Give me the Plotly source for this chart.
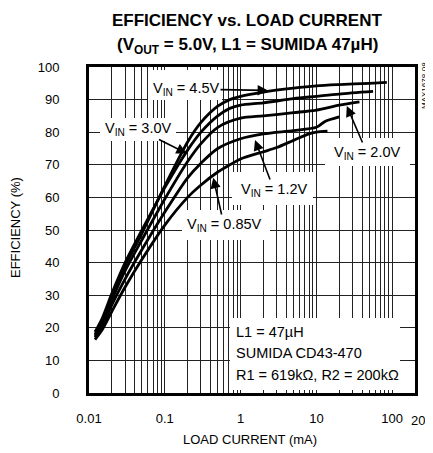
import math
import plotly.graph_objects as go

# ---- data ----
I_45 = [0.012, 0.015, 0.02, 0.03, 0.05, 0.1, 0.2, 0.3, 0.5, 0.72, 1, 2, 5, 10, 20, 50, 85]
E_45 = [18.0, 22.0, 29.5, 39.0, 49.0, 63.5, 77.0, 83.0, 88.0, 90.0, 91.0, 92.3, 93.5, 94.2, 94.6, 95.0, 95.3]

I_30 = [0.012, 0.015, 0.02, 0.03, 0.05, 0.1, 0.2, 0.3, 0.5, 0.72, 1, 2, 5, 10, 20, 56]
E_30 = [18.7, 23.0, 30.5, 40.0, 50.0, 63.0, 74.5, 80.0, 85.0, 87.3, 88.3, 89.0, 90.3, 91.0, 91.7, 92.5]

I_20 = [0.012, 0.015, 0.02, 0.03, 0.05, 0.1, 0.2, 0.3, 0.5, 1, 2, 5, 10, 20, 37]
E_20 = [17.5, 21.5, 28.5, 37.5, 47.0, 59.5, 71.0, 76.5, 81.5, 84.3, 85.0, 86.0, 86.8, 88.3, 89.3]

I_12 = [0.012, 0.015, 0.02, 0.03, 0.05, 0.1, 0.2, 0.3, 0.5, 1, 2, 5, 10, 13, 20]
E_12 = [17.0, 20.5, 27.0, 35.0, 44.0, 55.5, 66.0, 70.5, 75.0, 78.0, 79.5, 80.5, 81.5, 83.3, 84.7]

I_085 = [0.012, 0.015, 0.02, 0.03, 0.05, 0.1, 0.2, 0.3, 0.5, 0.72, 1, 2, 3, 5, 8, 10, 14]
E_085 = [16.4, 19.5, 25.0, 32.5, 41.0, 51.5, 60.0, 63.8, 67.8, 70.0, 71.8, 74.0, 75.3, 77.5, 79.5, 80.0, 80.3]

x_tickvals = [0.01, 0.1, 1, 10, 100]
x_ticktext = ["0.01", "0.1", "1", "10", "100"]
y_tickvals = [0, 10, 20, 30, 40, 50, 60, 70, 80, 90, 100]
x_minor = [m * d for d in (0.01, 0.1, 1, 10) for m in range(2, 10)]

FONT = "Liberation Sans Narrow, Arial Narrow, Liberation Sans, Arial, sans-serif"

series = [(I_45, E_45), (I_30, E_30), (I_20, E_20), (I_12, E_12), (I_085, E_085)]

fig = go.Figure()
for xs, ys in series:
    fig.add_trace(go.Scatter(x=xs, y=ys, mode="lines",
                             line=dict(color="black", width=2.8, shape="spline", smoothing=0.8),
                             hoverinfo="skip"))

# page body has an 8px margin, so the figure is drawn 8px in from the window corner
OFF = 8
FIG_W, FIG_H = 433 - OFF, 453 - OFF
# plot-area in window pixels: x 89..415, y 67..393
L, R, T, B = 89, 415, 67, 393
W, H = R - L, B - T
def px(x): return (x - L) / W
def py(y): return (B - y) / H

# white boxes that hide the grid behind labels
boxes = [(148, 222, 70, 100), (100, 176, 118, 141), (182, 270, 210, 240),
         (232, 313, 172, 205), (325, 410, 138, 166), (230, 400, 318, 390)]
shapes = []
for x0, x1, y0, y1 in boxes:
    shapes.append(dict(type="rect", xref="paper", yref="paper",
                       x0=px(x0), x1=px(x1), y0=py(y1), y1=py(y0),
                       fillcolor="white", line=dict(width=0), layer="above"))

ann = []
LBL = 14.5

def label(text, cx, cy, I, E):
    # text centred at pixel (cx, cy); arrow tip at data point (I, E)
    tip_x = L + (math.log10(I) + 2) / (math.log10(200) + 2) * W
    tip_y = B - E / 100 * H
    ann.append(dict(text=text, x=math.log10(I), y=E, xref="x", yref="y",
                    ax=cx - tip_x, ay=cy - tip_y, showarrow=True,
                    arrowhead=2, arrowsize=1.3, arrowwidth=1.6, arrowcolor="black",
                    standoff=0, startstandoff=0,
                    font=dict(size=LBL, color="black", family=FONT)))

label("V<sub>IN</sub> = 4.5V", 186, 89, 2.3, 92.8)
label("V<sub>IN</sub> = 3.0V", 138, 129, 0.195, 73.5)
label("V<sub>IN</sub> = 0.85V", 224, 225, 0.436, 66.0)
label("V<sub>IN</sub> = 1.2V", 274, 190, 1.55, 77.6)
label("V<sub>IN</sub> = 2.0V", 367, 153, 25.2, 88.0)

def text(t, x, y, size, xanchor="center", angle=0, bold=False):
    ann.append(dict(text=("<b>%s</b>" % t) if bold else t, xref="paper", yref="paper",
                    x=px(x), y=py(y), xanchor=xanchor, yanchor="middle",
                    textangle=angle, showarrow=False,
                    font=dict(size=size, color="black", family=FONT)))

# note box
text("L1 = 47µH", 234, 332, LBL, xanchor="left")
text("SUMIDA CD43-470", 234, 353, LBL, xanchor="left")
text("R1 = 619kΩ, R2 = 200kΩ", 234, 375, LBL, xanchor="left")

# title
text("EFFICIENCY vs. LOAD CURRENT", 247, 21, 17, bold=True)
text("(V<sub>OUT</sub> = 5.0V, L1 = SUMIDA 47µH)", 247, 46, 17, bold=True)
# axis titles
text("EFFICIENCY (%)", 15, 228, 13, angle=-90)
text("LOAD CURRENT (mA)", 250, 439, 13)
# extra tick label 200
text("200", 409, 420, 13, xanchor="left")
# part number
text("MAX1678-08", 424, 86, 8, angle=-90)

fig.update_layout(
    width=FIG_W, height=FIG_H,
    margin=dict(l=L - OFF, r=FIG_W - (R - OFF), t=T - OFF, b=FIG_H - (B - OFF)),
    paper_bgcolor="white", plot_bgcolor="white",
    showlegend=False,
    font=dict(family=FONT, size=13, color="black"),
    shapes=shapes, annotations=ann,
    xaxis=dict(type="log", range=[-2, math.log10(200)],
               tickvals=x_tickvals, ticktext=x_ticktext,
               showgrid=True, gridcolor="#222", gridwidth=1,
               showline=True, mirror=True, linecolor="black", linewidth=3,
               ticks="", ticklabelstandoff=11,
               minor=dict(tickvals=x_minor, showgrid=True, gridcolor="#222", gridwidth=1, ticks=""),
               tickfont=dict(size=13, family=FONT)),
    yaxis=dict(range=[0, 100], tickvals=y_tickvals,
               showgrid=True, gridcolor="#222", gridwidth=1, zeroline=False,
               showline=True, mirror=True, linecolor="black", linewidth=3,
               ticks="", ticklabelstandoff=24,
               tickfont=dict(size=13, family=FONT)),
)

fig.write_html("out.html")
